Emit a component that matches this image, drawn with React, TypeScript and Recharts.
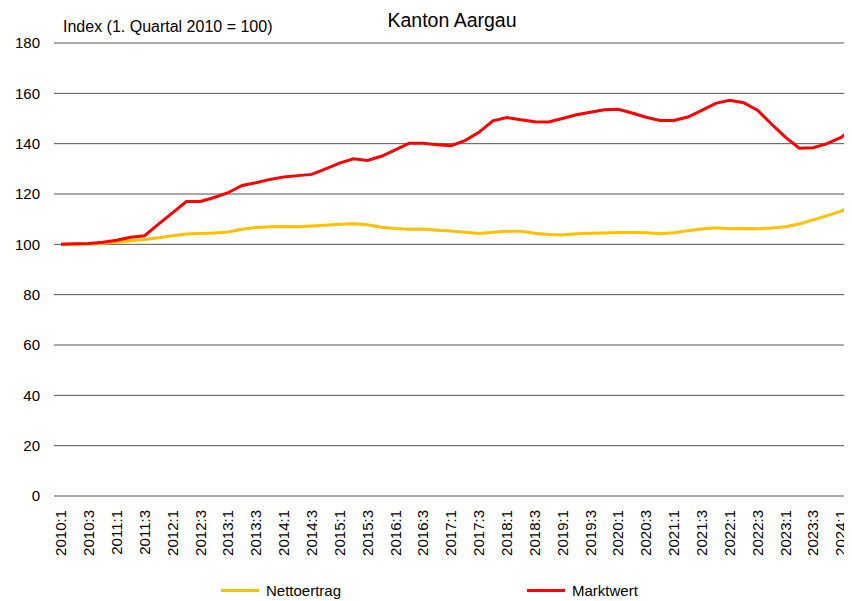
import React from "react";
import { LineChart, Line, XAxis, YAxis, CartesianGrid, Legend } from "recharts";

const quarters: string[] = [];
for (let y = 2010; y <= 2024; y++) {
  for (let q = 1; q <= 4; q++) {
    if (y === 2024 && q > 2) break;
    quarters.push(`${y}:${q}`);
  }
}

const nettoertrag = [
  100, 100, 100.1, 100.4, 100.8, 101.4, 101.9, 102.6, 103.4, 104.1,
  104.3, 104.5, 104.9, 106, 106.7, 107, 107.1, 107, 107.3, 107.6,
  108, 108.2, 107.8, 106.8, 106.3, 106, 106.1, 105.6, 105.3, 104.8,
  104.3, 104.8, 105.2, 105.2, 104.4, 103.9, 103.7, 104.2, 104.4, 104.5,
  104.7, 104.7, 104.6, 104.2, 104.6, 105.4, 106.1, 106.6, 106.2, 106.3,
  106.2, 106.5, 107, 108.1, 109.7, 111.4, 113.2, 115.8,
];

const marktwert = [
  100, 100.2, 100.3, 100.8, 101.6, 102.8, 103.4, 108, 112.5, 117,
  117, 118.6, 120.5, 123.4, 124.5, 125.8, 126.8, 127.3, 127.8, 130,
  132.3, 134, 133.3, 135, 137.5, 140.2, 140.2, 139.6, 139.2, 141.2,
  144.5, 149.1, 150.4, 149.5, 148.7, 148.6, 150, 151.5, 152.5, 153.5,
  153.7, 152.2, 150.5, 149.2, 149.2, 150.6, 153.2, 156, 157.2, 156.3,
  153.3, 147.8, 142.6, 138.2, 138.4, 140, 142.5, 146.6,
];

const yTicks = [0, 20, 40, 60, 80, 100, 120, 140, 160, 180];

const data = quarters.map((q, i) => ({
  name: q,
  Nettoertrag: nettoertrag[i],
  Marktwert: marktwert[i],
}));

const FONT = "'Liberation Sans', Arial, sans-serif";

function XTick({ x, y, payload }: any) {
  return (
    <text
      transform={`translate(${x},${y + 12}) rotate(-90)`}
      textAnchor="end"
      dy="0.35em"
      fontSize={15}
      fontFamily={FONT}
      fill="#000"
    >
      {payload.value}
    </text>
  );
}

function LegendBox() {
  const items = [
    { label: "Nettoertrag", color: "#ffc000", left: 213 },
    { label: "Marktwert", color: "#ff0000", left: 519 },
  ];
  return (
    <div style={{ position: "relative", width: 854, height: 20 }}>
      {items.map((it) => (
        <div
          key={it.label}
          style={{
            position: "absolute",
            left: it.left,
            top: 0,
            display: "flex",
            alignItems: "center",
            fontFamily: FONT,
            fontSize: 15,
            color: "#000",
          }}
        >
          <span style={{ display: "inline-block", width: 38, height: 3, background: it.color, marginRight: 7 }} />
          {it.label}
        </div>
      ))}
    </div>
  );
}

export default function App() {
  return (
    <div style={{ position: "relative", width: 844, height: 593, overflow: "hidden", fontFamily: FONT }}>
      <div style={{ position: "absolute", left: 0, width: 888, top: 1, textAlign: "center", fontSize: 19.5 }}>
        Kanton Aargau
      </div>
      <div style={{ position: "absolute", left: 55, top: 10, fontSize: 16 }}>Index (1. Quartal 2010 = 100)</div>
      <LineChart width={854} height={593} data={data} margin={{ top: 35, right: 0, bottom: 10, left: 0 }}>
        <CartesianGrid vertical={false} stroke="#555" strokeWidth={1} />
        <XAxis
          dataKey="name"
          interval={1}
          axisLine={false}
          tickLine={false}
          tickSize={0}
          height={75}
          padding={{ left: 7, right: 7 }}
          tick={<XTick />}
        />
        <YAxis
          domain={[0, 180]}
          ticks={yTicks}
          width={46}
          axisLine={false}
          tickLine={false}
          tickSize={0}
          tickMargin={14}
          tick={{ fontSize: 15, fill: "#000", fontFamily: FONT }}
        />
        <Legend
          verticalAlign="bottom"
          wrapperStyle={{ left: 0, top: 574, width: 854 }}
          content={() => <LegendBox />}
        />
        <Line type="linear" dataKey="Nettoertrag" stroke="#ffc000" strokeWidth={3} dot={false} isAnimationActive={false} />
        <Line type="linear" dataKey="Marktwert" stroke="#ff0000" strokeWidth={3} dot={false} isAnimationActive={false} />
      </LineChart>
    </div>
  );
}
